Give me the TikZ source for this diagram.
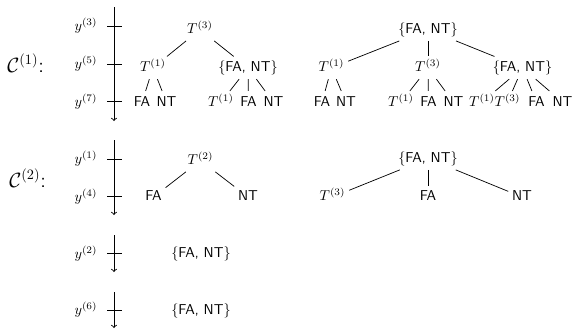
\documentclass[tikz,border=0pt]{standalone}
\usepackage{amsmath}
\begin{document}
\begin{tikzpicture}[x=0.7pt,y=-0.7pt,font=\sffamily,
    nodo/.style={text height=8pt,text depth=2.5pt,inner sep=2.5pt},
    arista/.style={line width=0.5pt},
    eje/.style={->,line width=0.6pt}]
  \useasboundingbox (0,0) rectangle (573,329);

  % Ejes
  \draw[eje] (114,7) -- (114,121);
  \draw[eje] (114,140) -- (114,215);
  \draw[eje] (114,235) -- (114,272);
  \draw[eje] (114,292) -- (114,328);

  % Marcas y etiquetas de los ejes
  \foreach \y/\k in {26/3,64/5,101.5/7,159/1,196.7/4,253.3/2,310/6} {
      \draw[line width=0.6pt] (107,\y) -- (122,\y);
      \node[left] (y\k) at (102.4,\y) {$y^{(\k)}$};
  }

  % Conjuntos
  \node[anchor=base west,inner sep=0] (c1) at (7,72) {\Large $\mathcal{C}^{(1)}$:};
  \node[anchor=base west,inner sep=0] (c2) at (9,187) {\Large $\mathcal{C}^{(2)}$:};

  % Primer arbol de C(1)
  \node[nodo] (a3) at (200,29.6) {$T^{(3)}$};
  \node[nodo] (a1) at (153,67.8) {$T^{(1)}$};
  \node[nodo] (af) at (248,67.8) {\{FA, NT\}};
  \node[nodo] (a1fa) at (142,102.3) {FA};
  \node[nodo] (a1nt) at (166.5,102.3) {NT};
  \node[nodo] (af1) at (221,102.3) {$T^{(1)}$};
  \node[nodo] (affa) at (248.5,102.3) {FA};
  \node[nodo] (afnt) at (273.5,102.3) {NT};

  \draw[arista] (a3) -- (a1);
  \draw[arista] (a3) -- (af);
  \draw[arista] (a1) -- (a1fa);
  \draw[arista] (a1) -- (a1nt);
  \draw[arista] (af) -- (af1);
  \draw[arista] (af) -- (affa);
  \draw[arista] (af) -- (afnt);

  % Segundo arbol de C(1)
  \node[nodo] (b) at (428,29.6) {\{FA, NT\}};
  \node[nodo] (b1) at (331.5,67.8) {$T^{(1)}$};
  \node[nodo] (b3) at (428,67.8) {$T^{(3)}$};
  \node[nodo] (bf) at (522.5,67.8) {\{FA, NT\}};
  \node[nodo] (b1fa) at (322,102.3) {FA};
  \node[nodo] (b1nt) at (346,102.3) {NT};
  \node[nodo] (b31) at (401,102.3) {$T^{(1)}$};
  \node[nodo] (b3fa) at (428.5,102.3) {FA};
  \node[nodo] (b3nt) at (453.5,102.3) {NT};
  \node[nodo] (bf1) at (482,102.3) {$T^{(1)}$};
  \node[nodo] (bf3) at (507.5,102.3) {$T^{(3)}$};
  \node[nodo] (bffa) at (536.5,102.3) {FA};
  \node[nodo] (bfnt) at (562.5,102.3) {NT};

  \draw[arista] (b) -- (b1);
  \draw[arista] (b) -- (b3);
  \draw[arista] (b) -- (bf);
  \draw[arista] (b1) -- (b1fa);
  \draw[arista] (b1) -- (b1nt);
  \draw[arista] (b3) -- (b31);
  \draw[arista] (b3) -- (b3fa);
  \draw[arista] (b3) -- (b3nt);
  \draw[arista] (bf) -- (bf1);
  \draw[arista] (bf) -- (bf3);
  \draw[arista] (bf) -- (bffa);
  \draw[arista] (bf) -- (bfnt);

  % Arboles de C(2)
  \node[nodo] (d2) at (200.5,160.5) {$T^{(2)}$};
  \node[nodo] (d2fa) at (153.5,197) {FA};
  \node[nodo] (d2nt) at (248,197) {NT};
  \draw[arista] (d2) -- (d2fa);
  \draw[arista] (d2) -- (d2nt);

  \node[nodo] (e) at (428,158.5) {\{FA, NT\}};
  \node[nodo] (e3) at (332.5,197) {$T^{(3)}$};
  \node[nodo] (efa) at (428,197) {FA};
  \node[nodo] (ent) at (522,197) {NT};
  \draw[arista] (e) -- (e3);
  \draw[arista] (e) -- (efa);
  \draw[arista] (e) -- (ent);

  % Hojas sueltas
  \node[nodo] (g2) at (201,254) {\{FA, NT\}};
  \node[nodo] (g6) at (201,311) {\{FA, NT\}};
\end{tikzpicture}
\end{document}
